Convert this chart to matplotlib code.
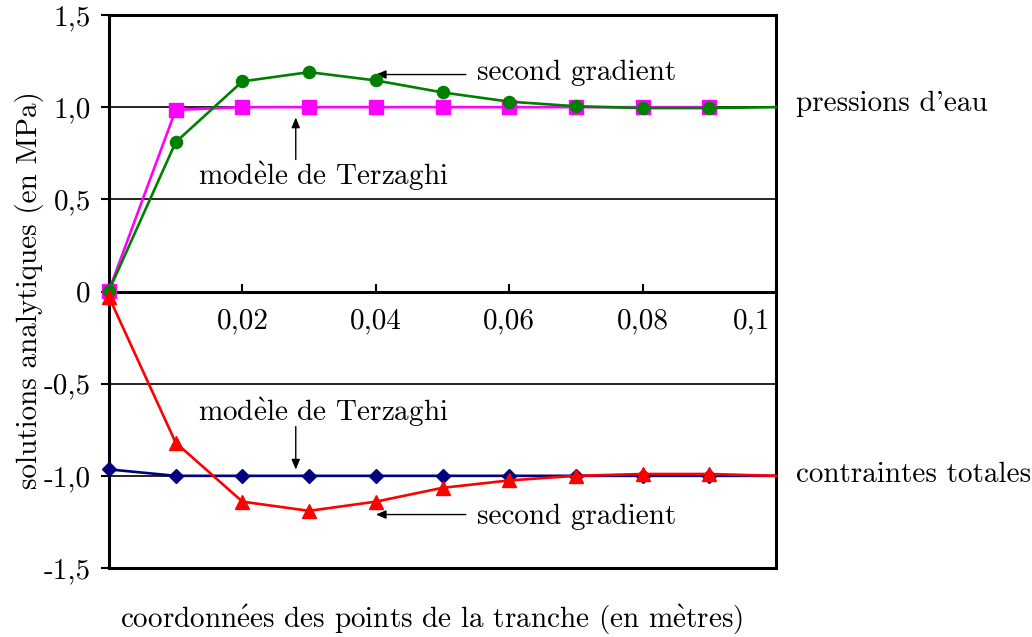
import matplotlib
matplotlib.use("Agg")
import matplotlib.pyplot as plt
from matplotlib.transforms import ScaledTranslation

plt.rcParams["font.family"] = ["cmr10", "DejaVu Serif"]
plt.rcParams["mathtext.fontset"] = "cm"
plt.rcParams["axes.unicode_minus"] = False
plt.rcParams["axes.formatter.use_mathtext"] = True

# Positions along the slice (m)
x_markers = [0.0, 0.01, 0.02, 0.03, 0.04, 0.05, 0.06, 0.07, 0.08, 0.09]
x_line_end = 0.1

# Water pressures (MPa)
p_terzaghi = [0.005, 0.985, 1.0, 1.0, 1.0, 1.0, 1.0, 1.0, 1.0, 1.0]
p_second = [0.005, 0.81, 1.14, 1.19, 1.145, 1.08, 1.03, 1.005, 0.995, 0.995]
p_second_end = 1.0

# Total stresses (MPa)
s_terzaghi = [-0.965, -1.0, -1.0, -1.0, -1.0, -1.0, -1.0, -1.0, -1.0, -1.0]
s_terzaghi_end = -1.0
s_second = [-0.03, -0.82, -1.14, -1.19, -1.14, -1.065, -1.025, -1.0, -0.99, -0.99]
s_second_end = -1.0

y_ticks = [-1.5, -1.0, -0.5, 0.0, 0.5, 1.0, 1.5]
y_ticklabels = ["-1,5", "-1,0", "-0,5", "0", "0,5", "1,0", "1,5"]
x_ticks = [0.02, 0.04, 0.06, 0.08, 0.1]
x_ticklabels = ["0,02", "0,04", "0,06", "0,08", "0,1"]
grid_levels = [-1.0, -0.5, 0.5, 1.0]

FS = 21
TERZ = r"mod$\grave{\mathrm{e}}$le de Terzaghi"

fig = plt.figure(figsize=(10.32, 6.37), dpi=100)
ax = fig.add_axes([109 / 1032, 1 - 568 / 637, (776 - 109) / 1032, (568 - 15) / 637])

ax.set_xlim(0, 0.1)
ax.set_ylim(-1.5, 1.5)

for g in grid_levels:
    ax.axhline(g, color="black", lw=1.2, zorder=1)

lw = 1.9
ax.plot(x_markers, p_terzaghi, color="#ff00ff", lw=lw, marker="s", ms=9.5,
        zorder=3, clip_on=False)
ax.plot(x_markers + [x_line_end], p_second + [p_second_end], color="#008000",
        lw=lw, marker="o", ms=8.7, markevery=list(range(len(x_markers))),
        zorder=4, clip_on=False)
ax.plot(x_markers + [x_line_end], s_terzaghi + [s_terzaghi_end], color="#000080",
        lw=lw, marker="D", ms=7.3, markevery=list(range(len(x_markers))),
        zorder=5, clip_on=False)
ax.plot(x_markers + [x_line_end], s_second + [s_second_end], color="#ff0000",
        lw=lw, marker="^", ms=10, markevery=list(range(len(x_markers))),
        zorder=6, clip_on=False)

# Frame: x axis runs through zero, closed box around the plot
for side in ["left", "right", "top", "bottom"]:
    ax.spines[side].set_linewidth(2.2)
ax.spines["bottom"].set_position(("data", 0))
ax.spines["bottom"].set_zorder(2)
ax.plot([0, 0.1], [-1.5, -1.5], color="black", lw=2.2, clip_on=False,
        solid_capstyle="projecting", zorder=7, transform=ax.transData)

ax.set_yticks(y_ticks)
ax.set_yticklabels(y_ticklabels, fontsize=FS)
ax.set_xticks(x_ticks)
ax.set_xticklabels(x_ticklabels, fontsize=FS)
ax.tick_params(axis="y", direction="out", length=6, width=1.5, pad=7)
ax.tick_params(axis="x", direction="in", length=6, width=1.5, pad=12)
last = ax.get_xticklabels()[-1]
last.set_transform(last.get_transform() + ScaledTranslation(-0.24, 0, fig.dpi_scale_trans))

arrow = dict(arrowstyle="-|>,head_length=0.6,head_width=0.25", color="black",
             lw=1.0, shrinkA=0, shrinkB=0)

# Annotations, water pressures
ax.annotate("", xy=(0.0400, 1.177), xytext=(0.0535, 1.177), arrowprops=arrow)
ax.text(0.0552, 1.145, "second gradient", fontsize=FS, ha="left", va="baseline")
ax.annotate("", xy=(0.028, 0.944), xytext=(0.028, 0.716), arrowprops=arrow)
ax.text(0.0134, 0.58, TERZ, fontsize=FS, ha="left", va="baseline")

# Annotations, total stresses
ax.text(0.0134, -0.705, TERZ, fontsize=FS, ha="left", va="baseline")
ax.annotate("", xy=(0.028, -0.966), xytext=(0.028, -0.733), arrowprops=arrow)
ax.annotate("", xy=(0.0400, -1.21), xytext=(0.0535, -1.21), arrowprops=arrow)
ax.text(0.0552, -1.264, "second gradient", fontsize=FS, ha="left", va="baseline")

# Curve family labels on the right
ax.text(1.03, 0.977, "pressions d'eau", fontsize=FS, ha="left", va="baseline",
        transform=ax.get_yaxis_transform())
ax.text(1.03, -1.036, "contraintes totales", fontsize=FS, ha="left", va="baseline",
        transform=ax.get_yaxis_transform())

fig.text(432 / 1032, 1 - 620 / 637,
         r"coordonn$\acute{\mathrm{e}}$es des points de la tranche (en m$\grave{\mathrm{e}}$tres)",
         fontsize=FS, ha="center", va="center")
fig.text(30 / 1032, 1 - 290 / 637, "solutions analytiques (en MPa)", fontsize=FS,
         ha="center", va="center", rotation=90)

fig.savefig("out.png", dpi=100)
